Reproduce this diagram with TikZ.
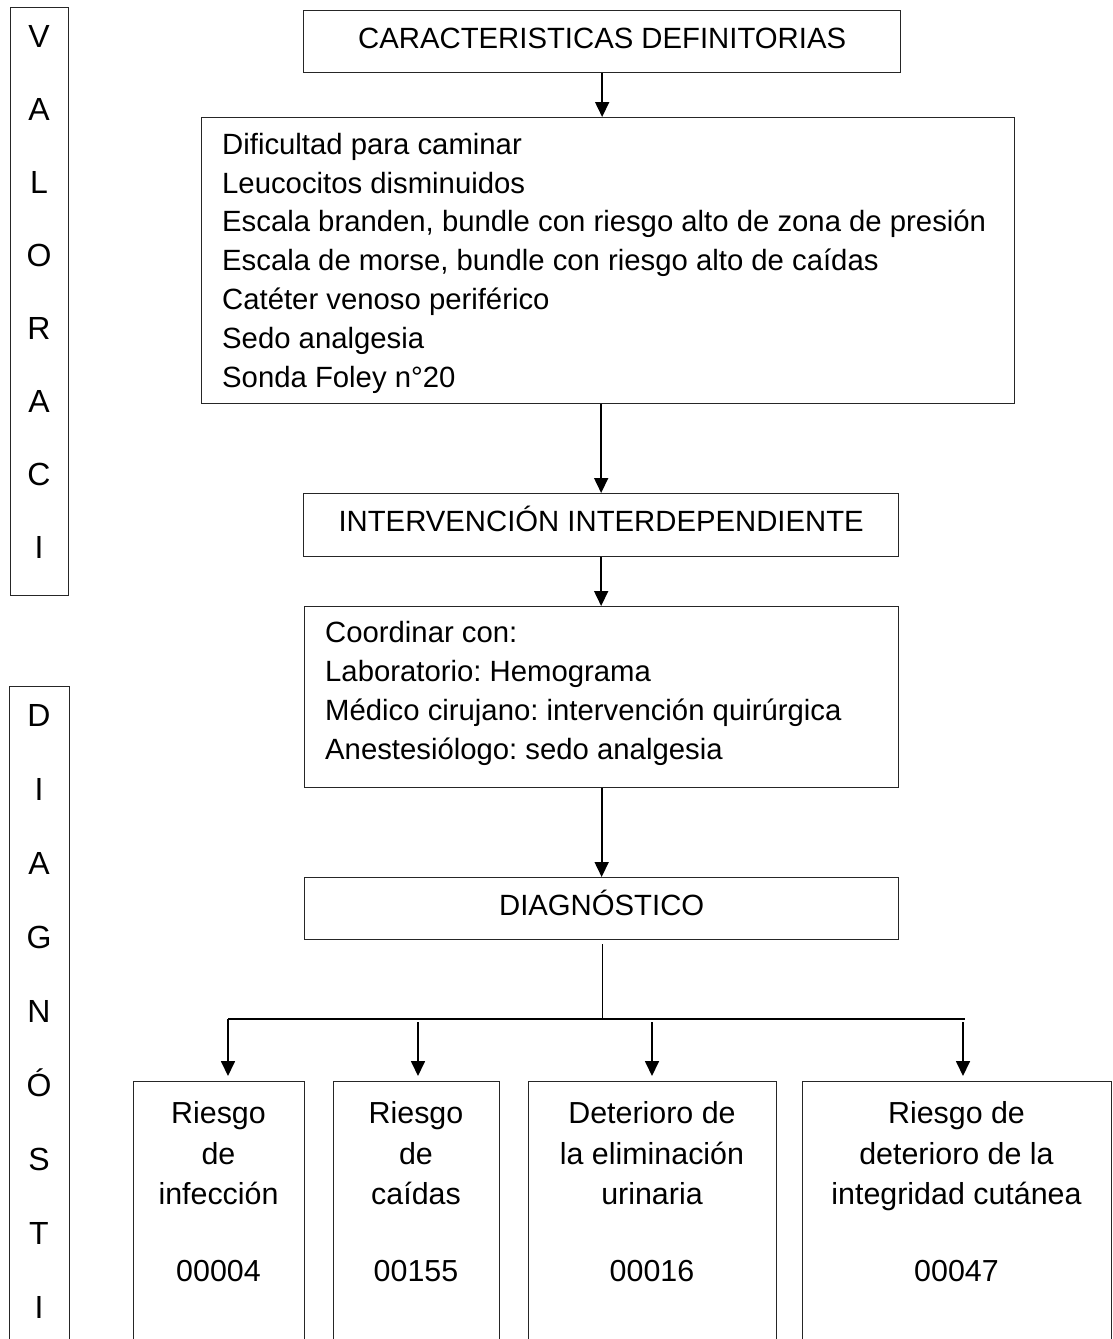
\documentclass[tikz,border=0pt]{standalone}
\usepackage{fontspec}
\setmainfont{Liberation Sans}
\usetikzlibrary{arrows.meta}
\begin{document}
\frenchspacing
\begin{tikzpicture}[x=1pt,y=-1pt,
  box/.style={draw=black!85,line width=1.3pt,inner sep=0pt,anchor=north west},
  titlebox/.style={box,font=\fontsize{29.3}{38.8}\selectfont,text height=21pt,text depth=8pt},
  listtext/.style={font=\fontsize{29.3}{38.8}\selectfont,align=left,anchor=base west,inner sep=0pt},
  sidetext/.style={font=\fontsize{32}{73}\selectfont,align=center,anchor=base,inner sep=0pt},
  dxtext/.style={font=\fontsize{30.4}{40.5}\selectfont,align=center,anchor=base,inner sep=0pt},
  arr/.style={line width=1.7pt,-{Triangle[length=15pt,width=14pt]}},
  conn/.style={line width=1.7pt},
  thinconn/.style={line width=1pt}]
\useasboundingbox (0,0) rectangle (1112,1339);
\clip (0,0) rectangle (1112,1339);
\fill[white] (0,0) rectangle (1112,1339);

% side boxes
\node[box,minimum width=58pt,minimum height=588pt] (valbox) at (10,7) {};
\node[sidetext] (valtxt) at (39,558.6) {V\\A\\L\\O\\R\\A\\C\\I};
\node[box,minimum width=60pt,minimum height=700pt] (diabox) at (9,686) {};
\node[sidetext,font=\fontsize{32}{74}\selectfont] (diatxt) at (39,1318.6) {D\\I\\A\\G\\N\\Ó\\S\\T\\I};

% main column
\node[titlebox,minimum width=597pt,minimum height=62pt] (car) at (303,10) {CARACTERISTICAS DEFINITORIAS};
\node[box,minimum width=813pt,minimum height=286pt] (list) at (201,117) {};
\node[listtext] (listtxt) at (222,387) {Dificultad para caminar\\Leucocitos disminuidos\\Escala branden, bundle con riesgo alto de zona de presión\\Escala de morse, bundle con riesgo alto de caídas\\Catéter venoso periférico\\Sedo analgesia\\Sonda Foley n°20};
\node[titlebox,minimum width=595pt,minimum height=63pt] (int) at (303,493) {INTERVENCIÓN INTERDEPENDIENTE};
\node[box,minimum width=594pt,minimum height=181pt] (coord) at (304,606) {};
\node[listtext] (coordtxt) at (325,759) {Coordinar con:\\Laboratorio: Hemograma\\Médico cirujano: intervención quirúrgica\\Anestesiólogo: sedo analgesia};
\node[titlebox,minimum width=594pt,minimum height=62pt] (diag) at (304,877) {DIAGNÓSTICO};

% bottom boxes
\node[box,minimum width=171pt,minimum height=300pt] (b1) at (133,1081) {};
\node[box,minimum width=166pt,minimum height=300pt] (b2) at (333,1081) {};
\node[box,minimum width=248pt,minimum height=300pt] (b3) at (528,1081) {};
\node[box,minimum width=309pt,minimum height=300pt] (b4) at (802,1081) {};
\node[dxtext] (t1) at (218.5,1281) {Riesgo\\de\\infección\\[36pt]00004};
\node[dxtext] (t2) at (416,1281) {Riesgo\\de\\caídas\\[36pt]00155};
\node[dxtext] (t3) at (652,1281) {Deterioro de\\la eliminación\\urinaria\\[36pt]00016};
\node[dxtext] (t4) at (956.5,1281) {Riesgo de\\deterioro de la\\integridad cutánea\\[36pt]00047};

% connectors
\draw[arr] (car.south) -- (car.south |- list.north);
\draw[arr] (int.north |- list.south) -- (int.north);
\draw[arr] (int.south) -- (int.south |- coord.north);
\draw[arr] (coord.south) -- (coord.south |- diag.north);
\coordinate (hub) at (602,1019);
\draw[thinconn] (hub |- diag.south) ++(0,4) -- (hub);
\coordinate (jL) at (228,1019);
\coordinate (jR) at (965,1019);
\draw[conn] (jL) -- (jR);
\coordinate (j2) at (418,1022);
\coordinate (j3) at (652,1022);
\coordinate (j4) at (963,1022);
\draw[arr,shorten >=5pt] (jL) -- (jL |- b1.north);
\draw[arr,shorten >=5pt] (j2) -- (j2 |- b2.north);
\draw[arr,shorten >=5pt] (j3) -- (j3 |- b3.north);
\draw[arr,shorten >=5pt] (j4) -- (j4 |- b4.north);
\end{tikzpicture}
\end{document}
